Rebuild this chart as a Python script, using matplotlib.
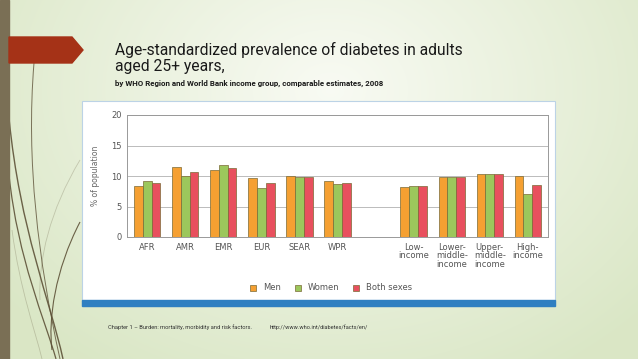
import numpy as np
import matplotlib
matplotlib.use("Agg")
import matplotlib.pyplot as plt
from matplotlib.patches import Rectangle, Polygon, PathPatch
from matplotlib.path import Path

W, H = 638, 359

groups = ["AFR", "AMR", "EMR", "EUR", "SEAR", "WPR",
          "Low-\nincome", "Lower-\nmiddle-\nincome", "Upper-\nmiddle-\nincome", "High-\nincome"]
slots = [0, 1, 2, 3, 4, 5, 7, 8, 9, 10]
men = [8.4, 11.5, 11.0, 9.6, 10.0, 9.2, 8.2, 9.9, 10.4, 10.0]
women = [9.2, 10.0, 11.8, 8.1, 9.8, 8.7, 8.4, 9.9, 10.35, 7.1]
both = [8.8, 10.7, 11.3, 8.8, 9.8, 8.9, 8.3, 9.9, 10.4, 8.5]
series = [("Men", men, "#f5a032"), ("Women", women, "#9cc75c"), ("Both sexes", both, "#e8505e")]
yticks = [0, 5, 10, 15, 20]

narrow = ["Roboto", "DejaVu Sans"]


def box(x, y, w, h):
    # pixel box (top-left origin) -> figure fraction
    return [x / W, 1 - (y + h) / H, w / W, h / H]


def fit_text(x, y, s, width, size, **kw):
    # shrink font until the text spans the wanted pixel width
    t = fig.text(x / W, 1 - y / H, s, fontsize=size, **kw)
    r = fig.canvas.get_renderer()
    w = t.get_window_extent(r).width
    if w > width:
        t.set_fontsize(size * width / w)
    return t


fig = plt.figure(figsize=(W / 100, H / 100), dpi=100)

# background gradient
bg = fig.add_axes([0, 0, 1, 1])
yy, xx = np.mgrid[0:H, 0:W]
d = np.sqrt(((xx - 330) / 420.0) ** 2 + ((yy - 90) / 330.0) ** 2)
d = np.clip(d, 0, 1)
c0 = np.array([0.975, 0.983, 0.955])
c1 = np.array([0.855, 0.905, 0.775])
img = c0[None, None, :] * (1 - d[..., None]) + c1[None, None, :] * d[..., None]
bg.imshow(img, extent=[0, W, H, 0], aspect="auto")
bg.set_xlim(0, W)
bg.set_ylim(H, 0)
bg.axis("off")

# decorative curves on the left
curves = [
    ([(34, 63), (26, 160), (38, 260), (60, 359)], 0.7, 0.8),
    ([(9, 118), (20, 230), (50, 300), (63, 359)], 1.0, 0.9),
    ([(9, 175), (18, 260), (45, 320), (56, 359)], 0.9, 0.9),
    ([(80, 222), (55, 270), (48, 320), (52, 350)], 0.8, 0.9),
    ([(80, 160), (50, 210), (38, 260), (40, 300)], 0.6, 0.25),
    ([(12, 230), (20, 290), (35, 330), (42, 359)], 0.6, 0.25),
]
for pts, lw, a in curves:
    p = Path(pts, [Path.MOVETO, Path.CURVE4, Path.CURVE4, Path.CURVE4])
    bg.add_patch(PathPatch(p, fill=False, edgecolor="#5e5238", lw=lw, alpha=a))

bg.add_patch(Rectangle((0, 0), 9, H, color="#7a6f55"))
bg.add_patch(Polygon([(9, 37), (72, 37), (83, 50), (72, 63), (9, 63)], closed=True, color="#a53217"))

# titles
t1 = fit_text(115, 55, "Age-standardized prevalence of diabetes in adults", 345, 12.5,
              family=narrow, color="#1a1a1a")
fig.text(115 / W, 1 - 71 / H, "aged 25+ years,", fontsize=t1.get_fontsize(), family=narrow,
         color="#1a1a1a")
fit_text(115, 86, "by WHO Region and World Bank income group, comparable estimates, 2008", 265, 6.5,
         family=narrow, weight="bold", color="#1a1a1a")

# chart card
bg.add_patch(Rectangle((82, 101), 473, 205, facecolor="white", edgecolor="#bcd3e6", lw=0.8))
bg.add_patch(Rectangle((82, 300), 473, 6, color="#2f7fc1"))

ax = fig.add_axes(box(127, 115, 421, 122))
bw = 0.23
x = np.array(slots, dtype=float)
for i, (name, vals, col) in enumerate(series):
    ax.bar(x + (i - 1) * bw, vals, bw, color=col, edgecolor="#7a6a35", lw=0.5,
           label=name, zorder=3)
ax.set_xlim(-0.53, 10.53)
ax.set_ylim(0, 20)
ax.set_yticks(yticks)
ax.set_xticks(x)
ax.set_xticklabels(groups, linespacing=0.95)
ax.tick_params(axis="both", length=0, labelsize=6, colors="#555555", pad=4)
ax.grid(axis="y", color="#bbbbbb", lw=0.7, zorder=0)
for s in ax.spines.values():
    s.set_color("#999999")
    s.set_linewidth(0.7)
ax.set_ylabel("% of population", fontsize=5.5, color="#666666", labelpad=8)

leg = fig.legend(loc="center", bbox_to_anchor=(331 / W, 1 - 288 / H), ncol=3, frameon=False,
                 fontsize=6, handlelength=0.7, handleheight=0.7, columnspacing=1.7, handletextpad=0.8)
for t in leg.get_texts():
    t.set_color("#555555")

fit_text(108, 329, "Chapter 1 \u2013 Burden: mortality, morbidity and risk factors.", 145, 4.4,
         family=narrow, color="#333333")
fit_text(270, 329, "http://www.who.int/diabetes/facts/en/", 98, 4.4, family=narrow, color="#333333")

fig.savefig("out.png", dpi=100)
